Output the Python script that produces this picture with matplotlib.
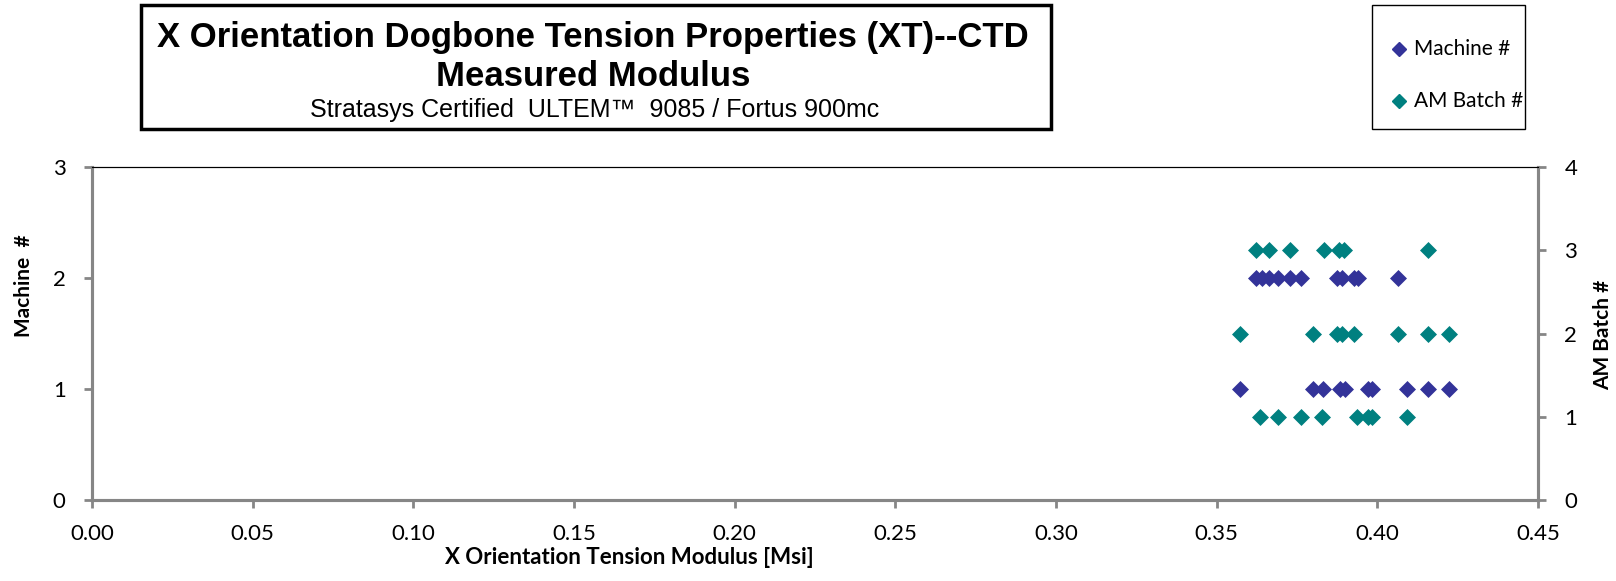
import numpy as np
import matplotlib.pyplot as plt
from matplotlib.patches import Rectangle

# -----------------------------------------
# Data
# -----------------------------------------
machine_x = [0.3574, 0.3799, 0.3832, 0.3884, 0.3900, 0.3972, 0.3982, 0.4093, 0.4158, 0.4223,
             0.3622, 0.3640, 0.3663, 0.3692, 0.3727, 0.3763, 0.3876, 0.3891, 0.3928, 0.3940, 0.4064]
machine_y = [1] * 10 + [2] * 11

batch_x = [0.3636, 0.3692, 0.3762, 0.3827, 0.3938, 0.3972, 0.3982, 0.4093,
           0.3574, 0.3799, 0.3873, 0.3891, 0.3928, 0.4064, 0.4158, 0.4223,
           0.3621, 0.3663, 0.3727, 0.3834, 0.3880, 0.3897, 0.4158]
batch_y = [1] * 8 + [2] * 8 + [3] * 7

x_ticks = [0.00, 0.05, 0.10, 0.15, 0.20, 0.25, 0.30, 0.35, 0.40, 0.45]
machine_ticks = [0, 1, 2, 3]
batch_ticks = [0, 1, 2, 3, 4]

machine_color = '#333399'
batch_color = '#008080'
axis_gray = '#868686'

W, H = 1616, 581
fig = plt.figure(figsize=(W / 100, H / 100), dpi=100)
plt.rcParams['font.family'] = ['Lato', 'DejaVu Sans']

ax = fig.add_axes([92 / W, 1 - 500 / H, (1538 - 92) / W, (500 - 167) / H])
ax2 = ax.twinx()

ax.scatter(machine_x, machine_y, marker='D', s=75, color=machine_color, zorder=3, linewidths=0)
ax2.scatter(batch_x, batch_y, marker='D', s=75, color=batch_color, zorder=3, linewidths=0)

ax.set_xlim(0, 0.45)
ax.set_ylim(0, 3)
ax2.set_ylim(0, 4)
ax.set_xticks(x_ticks)
ax.set_xticklabels([f'{v:.2f}' for v in x_ticks])
ax.set_yticks(machine_ticks)
ax2.set_yticks(batch_ticks)

for a in (ax, ax2):
    for side in ('left', 'right', 'bottom'):
        a.spines[side].set_color(axis_gray)
        a.spines[side].set_linewidth(2.2)
    a.spines['top'].set_color('black')
    a.spines['top'].set_linewidth(0.8)
    a.tick_params(colors=axis_gray, width=2, length=6, labelsize=16,
                  labelcolor='black', pad=13)
ax.tick_params(axis='x', pad=11)

fig.text(24 / W, 1 - 286 / H, 'Machine  #', rotation=90, ha='center', va='center',
         fontsize=15, fontweight='bold')
fig.text(1603 / W, 1 - 335 / H, 'AM Batch #', rotation=90, ha='center', va='center',
         fontsize=15, fontweight='bold')
fig.text(629 / W, 1 - 558 / H, 'X Orientation Tension Modulus [Msi]', ha='center',
         va='center', fontsize=16, fontweight='bold')

# Title box
fig.add_artist(Rectangle((141 / W, 1 - 129 / H), (1051 - 141) / W, (129 - 5) / H,
                         transform=fig.transFigure, fill=False, edgecolor='black',
                         linewidth=2.5))
arial = ['Liberation Sans', 'DejaVu Sans']
fig.text(593 / W, 1 - 38 / H, 'X Orientation Dogbone Tension Properties (XT)--CTD',
         ha='center', va='center', fontsize=25, fontweight='bold', family=arial)
fig.text(593 / W, 1 - 76 / H, 'Measured Modulus', ha='center', va='center',
         fontsize=25, fontweight='bold', family=arial)
fig.text(595 / W, 1 - 110 / H, 'Stratasys Certified  ULTEM\u2122  9085 / Fortus 900mc',
         ha='center', va='center', fontsize=18, family=arial)

# Legend box
fig.add_artist(Rectangle((1372 / W, 1 - 129 / H), (1525 - 1372) / W, (129 - 5) / H,
                         transform=fig.transFigure, fill=False, edgecolor='black',
                         linewidth=1.0))
legend_items = [('Machine #', machine_color, 49), ('AM Batch #', batch_color, 101)]
for label, color, ypix in legend_items:
    fig.add_artist(plt.Line2D([1399 / W], [1 - ypix / H], marker='D', markersize=7,
                              color=color, linestyle='', transform=fig.transFigure))
    fig.text(1414 / W, 1 - ypix / H, label, ha='left', va='center', fontsize=15)

fig.savefig('out.png', dpi=100)
